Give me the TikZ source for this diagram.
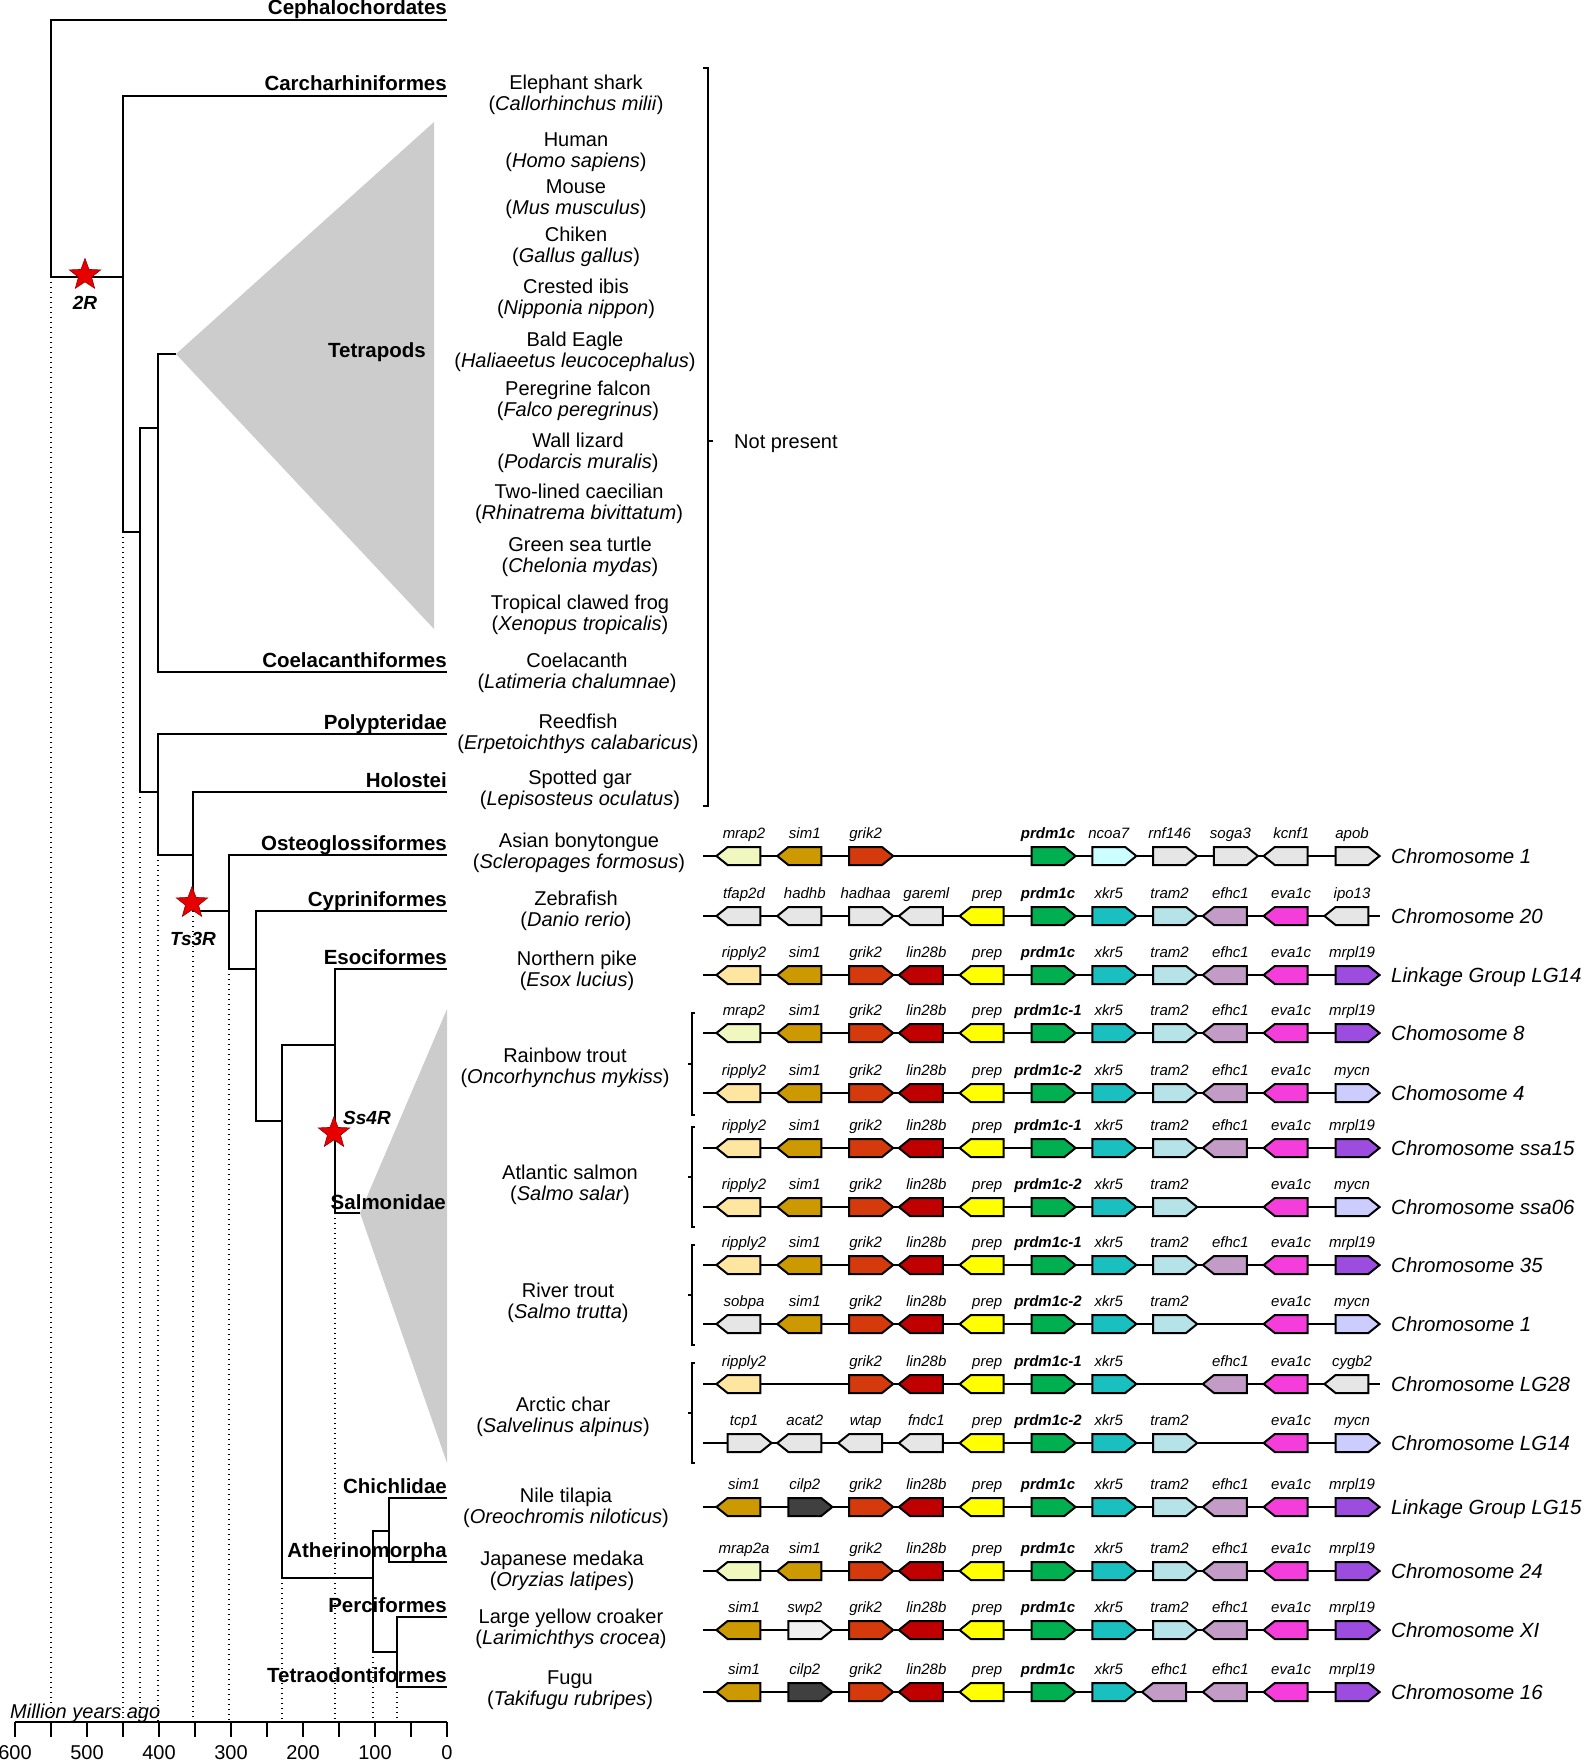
\documentclass[tikz,border=0pt]{standalone}
\usepackage{fontspec}
\setmainfont{Liberation Sans}
\usetikzlibrary{shapes.geometric,shapes.symbols}

\definecolor{cladegray}{HTML}{CCCCCC}
\definecolor{starred}{HTML}{E60000}
\definecolor{gmrap}{HTML}{F0F8C0}
\definecolor{gripp}{HTML}{FFE6A0}
\definecolor{gsim}{HTML}{CC9900}
\definecolor{ggrik}{HTML}{D43A0C}
\definecolor{glin}{HTML}{C00000}
\definecolor{gprep}{HTML}{FFFF00}
\definecolor{gprdm}{HTML}{00B050}
\definecolor{gxkr}{HTML}{1ABFC0}
\definecolor{gtram}{HTML}{B5E3E8}
\definecolor{gefhc}{HTML}{C39BC7}
\definecolor{geva}{HTML}{F53DDB}
\definecolor{gmrpl}{HTML}{9D4CE0}
\definecolor{gmycn}{HTML}{CCCCFF}
\definecolor{gncoa}{HTML}{CCFFFF}
\definecolor{ggray}{HTML}{E6E6E6}
\definecolor{glgray}{HTML}{F0F0F0}
\definecolor{gcilp}{HTML}{404040}

\tikzset{
  branch/.style={line width=1.5pt},
  guide/.style={line width=1.2pt, dash pattern=on 1.4pt off 3.6pt},
  clade/.style={fill=cladegray, draw=none},
  taxon/.style={anchor=base east, inner sep=0pt, font=\fontsize{20.5}{21}\selectfont\bfseries},
  species/.style={align=center, inner sep=0pt, font=\fontsize{20}{20.5}\selectfont},
  dupstar/.style={star, star points=5, star point ratio=2.4, fill=starred, draw=red!60!black, line width=0.6pt, minimum size=33pt, inner sep=0pt},
  dupname/.style={anchor=base, inner sep=0pt, font=\fontsize{19}{20}\selectfont\bfseries\itshape},
  gene/.style={signal, signal pointer angle=78, draw=black, line width=2pt, minimum width=44pt, minimum height=18pt, inner sep=0pt},
  gl/.style={signal to=west},
  gr/.style={signal to=east},
  glab/.style={anchor=base, inner sep=0pt, font=\fontsize{15}{16}\selectfont\itshape},
  chrom/.style={anchor=base west, inner sep=0pt, font=\fontsize{20.5}{22}\selectfont\itshape},
  track/.style={line width=1.5pt},
  brace/.style={line width=1.2pt},
  axlab/.style={anchor=north, inner sep=0pt, font=\fontsize{20}{20}\selectfont}
}

\newcommand\generow[4]{%
  \coordinate (#1s) at (703,#2);
  \coordinate (#1e) at (1380,#2);
  \draw[track] (#1s) -- (#1e);
  \node[chrom] (#1c) at (1391,#2+7.5) {#3};
  \foreach \gp/\gd/\gc/\gt in {#4} {
    \node[gene,\gd,fill=\gc] (#1g\gp) at ({744+60.8*\gp},#2) {};
    \node[glab] (#1l\gp) at ({744+60.8*\gp},#2-18) {\gt};
  }
}

\begin{document}
\begin{tikzpicture}[x=1pt,y=-1pt]
\useasboundingbox (0,0) rectangle (1585,1760);

\coordinate (root) at (51,277);
\coordinate (n1) at (123,277);
\coordinate (n2) at (140,532);
\coordinate (sarc) at (158,428);
\coordinate (actino) at (158,792);
\coordinate (neop) at (193,855);
\coordinate (tele) at (229,911);
\coordinate (clupeo) at (256,969);
\coordinate (eutel) at (282,1121);
\coordinate (esal) at (335,1045);
\coordinate (acanth) at (373,1578);
\coordinate (cm) at (389,1531);
\coordinate (pt) at (397,1652);

\coordinate (ceph) at (447,20);
\coordinate (carch) at (447,96);
\coordinate (tetra) at (176,354);
\coordinate (tetraT) at (434,122);
\coordinate (tetraB) at (434,629);
\coordinate (coel) at (447,672);
\coordinate (poly) at (447,734);
\coordinate (holo) at (447,792);
\coordinate (osteo) at (447,855);
\coordinate (cypr) at (447,911);
\coordinate (esoc) at (447,969);
\coordinate (salm) at (360,1213);
\coordinate (salmT) at (447,1009);
\coordinate (salmB) at (447,1463);
\coordinate (chich) at (447,1498);
\coordinate (ather) at (447,1562);
\coordinate (perci) at (447,1617);
\coordinate (tetrao) at (447,1687);

\coordinate (axisL) at (15,1722);
\coordinate (axisR) at (447,1722);

\fill[clade] (tetra) -- (tetraT) -- (tetraB) -- cycle;
\fill[clade] (salm) -- (salmT) -- (salmB) -- cycle;

\draw[guide] (root) -- (root |- axisL);
\draw[guide] (n1 |- n2) -- (n1 |- axisL);
\draw[guide] (n2 |- actino) -- (n2 |- axisL);
\draw[guide] (actino |- neop) -- (actino |- axisL);
\draw[guide] (neop |- tele) -- (neop |- axisL);
\draw[guide] (tele |- clupeo) -- (tele |- axisL);
\draw[guide] (eutel |- acanth) -- (eutel |- axisL);
\draw[guide] (esal |- salm) -- (esal |- axisL);
\draw[guide] (acanth |- pt) -- (acanth |- axisL);
\draw[guide] (pt |- tetrao) -- (pt |- axisL);

\draw[branch] (ceph) -| (root) -- (n1);
\draw[branch] (carch) -| (n1) |- (n2);
\draw[branch] (sarc) -| (n2) |- (actino);
\draw[branch] (tetra) -| (sarc) |- (coel);
\draw[branch] (poly) -| (actino) |- (neop);
\draw[branch] (holo) -| (neop) |- (tele);
\draw[branch] (osteo) -| (tele) |- (clupeo);
\draw[branch] (cypr) -| (clupeo) |- (eutel);
\draw[branch] (esal) -| (eutel) |- (acanth);
\draw[branch] (esoc) -| (esal) |- (salm);
\draw[branch] (cm) -| (acanth) |- (pt);
\draw[branch] (chich) -| (cm) |- (ather);
\draw[branch] (perci) -| (pt) |- (tetrao);

\node[taxon] (cephl) at ([yshift=5pt]ceph) {Cephalochordates};
\node[taxon] (carchl) at ([yshift=5pt]carch) {Carcharhiniformes};
\node[taxon] (tetral) at (426,357) {Tetrapods};
\node[taxon] (coell) at ([yshift=5pt]coel) {Coelacanthiformes};
\node[taxon] (polyl) at ([yshift=5pt]poly) {Polypteridae};
\node[taxon] (holol) at ([yshift=5pt]holo) {Holostei};
\node[taxon] (osteol) at ([yshift=5pt]osteo) {Osteoglossiformes};
\node[taxon] (cyprl) at ([yshift=5pt]cypr) {Cypriniformes};
\node[taxon] (esocl) at ([yshift=5pt]esoc) {Esociformes};
\node[taxon] (salml) at (446,1209) {Salmonidae};
\node[taxon] (chichl) at ([yshift=5pt]chich) {Chichlidae};
\node[taxon] (atherl) at ([yshift=5pt]ather) {Atherinomorpha};
\node[taxon] (percil) at ([yshift=5pt]perci) {Perciformes};
\node[taxon] (tetraol) at ([yshift=5pt]tetrao) {Tetraodontiformes};

\node[dupstar] (s2R) at (85,275) {};
\node[dupname] (l2R) at (85,310) {2R};
\node[dupstar] (s3R) at (192,903) {};
\node[dupname] (l3R) at (193,945) {Ts3R};
\node[dupstar] (s4R) at (334,1133) {};
\node[dupname, anchor=base west] (l4R) at (343,1124) {Ss4R};

\draw[branch] (axisL) -- (axisR);
\foreach \my in {0,50,...,600}
  \draw[branch] ({447-0.72*\my},1722) -- ++(0,15);
\foreach \my in {0,100,...,600}
  \node[axlab] at ({447-0.72*\my},1745) {\my};
\node[anchor=base west, inner sep=0pt, font=\fontsize{20}{20}\selectfont\itshape] (mya) at (10,1718) {Million years ago};

\node[species] (shark) at (576,95) {Elephant shark\\(\textit{Callorhinchus milii})};
\node[species] (human) at (576,152) {Human\\(\textit{Homo sapiens})};
\node[species] (mouse) at (576,199) {Mouse\\(\textit{Mus musculus})};
\node[species] (chick) at (576,247) {Chiken\\(\textit{Gallus gallus})};
\node[species] (ibis) at (576,299) {Crested ibis\\(\textit{Nipponia nippon})};
\node[species] (eagle) at (575,352) {Bald Eagle\\(\textit{Haliaeetus leucocephalus})};
\node[species] (falcon) at (578,401) {Peregrine falcon\\(\textit{Falco peregrinus})};
\node[species] (lizard) at (578,453) {Wall lizard\\(\textit{Podarcis muralis})};
\node[species] (caecil) at (579,504) {Two-lined caecilian\\(\textit{Rhinatrema bivittatum})};
\node[species] (turtle) at (580,557) {Green sea turtle\\(\textit{Chelonia mydas})};
\node[species] (frog) at (580,615) {Tropical clawed frog\\(\textit{Xenopus tropicalis})};
\node[species] (coelsp) at (577,673) {Coelacanth\\(\textit{Latimeria chalumnae})};
\node[species] (reed) at (578,734) {Reedfish\\(\textit{Erpetoichthys calabaricus})};
\node[species] (gar) at (580,790) {Spotted gar\\(\textit{Lepisosteus oculatus})};
\node[species] (bony) at (579,853) {Asian bonytongue\\(\textit{Scleropages formosus})};
\node[species] (zebra) at (576,911) {Zebrafish\\(\textit{Danio rerio})};
\node[species] (pike) at (577,971) {Northern pike\\(\textit{Esox lucius})};
\node[species] (rtrout) at (565,1068) {Rainbow trout\\(\textit{Oncorhynchus mykiss})};
\node[species] (salmon) at (570,1185) {Atlantic salmon\\(\textit{Salmo salar})};
\node[species] (btrout) at (568,1303) {River trout\\(\textit{Salmo trutta})};
\node[species] (char) at (563,1417) {Arctic char\\(\textit{Salvelinus alpinus})};
\node[species] (tilap) at (566,1508) {Nile tilapia\\(\textit{Oreochromis niloticus})};
\node[species] (medaka) at (562,1571) {Japanese medaka\\(\textit{Oryzias latipes})};
\node[species] (croak) at (571,1629) {Large yellow croaker\\(\textit{Larimichthys crocea})};
\node[species] (fugu) at (570,1690) {Fugu\\(\textit{Takifugu rubripes})};

\coordinate (npT) at (708,68);
\coordinate (npB) at (708,806);
\coordinate (npM) at (708,441);
\draw[brace] ([xshift=-5pt]npT) -- (npT) -- (npB) -- ([xshift=-5pt]npB);
\draw[brace] (npM) -- ++(5,0);
\node[species, anchor=west] (np) at (734,444) {Not present};

\foreach \bt/\bb in {1013/1115,1127/1227,1245/1345,1363/1463} {
  \draw[brace] (695,\bt) -- (692,\bt) -- (692,\bb) -- (695,\bb);
  \draw[brace] (692,{(\bt+\bb)/2}) -- ++(-4,0);
}

\generow{A}{856}{Chromosome 1}{0/gl/gmrap/mrap2, 1/gl/gsim/sim1, 2/gr/ggrik/grik2, 5/gr/gprdm/\textbf{prdm1c}, 6/gr/gncoa/ncoa7, 7/gr/ggray/rnf146, 8/gr/ggray/soga3, 9/gl/ggray/kcnf1, 10/gr/ggray/apob}
\generow{B}{916}{Chromosome 20}{0/gl/ggray/tfap2d, 1/gl/ggray/hadhb, 2/gr/ggray/hadhaa, 3/gl/ggray/gareml, 4/gl/gprep/prep, 5/gr/gprdm/\textbf{prdm1c}, 6/gr/gxkr/xkr5, 7/gr/gtram/tram2, 8/gl/gefhc/efhc1, 9/gl/geva/eva1c, 10/gl/ggray/ipo13}
\generow{C}{975}{Linkage Group LG14}{0/gl/gripp/ripply2, 1/gl/gsim/sim1, 2/gr/ggrik/grik2, 3/gl/glin/lin28b, 4/gl/gprep/prep, 5/gr/gprdm/\textbf{prdm1c}, 6/gr/gxkr/xkr5, 7/gr/gtram/tram2, 8/gl/gefhc/efhc1, 9/gl/geva/eva1c, 10/gr/gmrpl/mrpl19}
\generow{D}{1033}{Chomosome 8}{0/gl/gmrap/mrap2, 1/gl/gsim/sim1, 2/gr/ggrik/grik2, 3/gl/glin/lin28b, 4/gl/gprep/prep, 5/gr/gprdm/\textbf{prdm1c-1}, 6/gr/gxkr/xkr5, 7/gr/gtram/tram2, 8/gl/gefhc/efhc1, 9/gl/geva/eva1c, 10/gr/gmrpl/mrpl19}
\generow{E}{1093}{Chomosome 4}{0/gl/gripp/ripply2, 1/gl/gsim/sim1, 2/gr/ggrik/grik2, 3/gl/glin/lin28b, 4/gl/gprep/prep, 5/gr/gprdm/\textbf{prdm1c-2}, 6/gr/gxkr/xkr5, 7/gr/gtram/tram2, 8/gl/gefhc/efhc1, 9/gl/geva/eva1c, 10/gr/gmycn/mycn}
\generow{F}{1148}{Chromosome ssa15}{0/gl/gripp/ripply2, 1/gl/gsim/sim1, 2/gr/ggrik/grik2, 3/gl/glin/lin28b, 4/gl/gprep/prep, 5/gr/gprdm/\textbf{prdm1c-1}, 6/gr/gxkr/xkr5, 7/gr/gtram/tram2, 8/gl/gefhc/efhc1, 9/gl/geva/eva1c, 10/gr/gmrpl/mrpl19}
\generow{G}{1207}{Chromosome ssa06}{0/gl/gripp/ripply2, 1/gl/gsim/sim1, 2/gr/ggrik/grik2, 3/gl/glin/lin28b, 4/gl/gprep/prep, 5/gr/gprdm/\textbf{prdm1c-2}, 6/gr/gxkr/xkr5, 7/gr/gtram/tram2, 9/gl/geva/eva1c, 10/gr/gmycn/mycn}
\generow{H}{1265}{Chromosome 35}{0/gl/gripp/ripply2, 1/gl/gsim/sim1, 2/gr/ggrik/grik2, 3/gl/glin/lin28b, 4/gl/gprep/prep, 5/gr/gprdm/\textbf{prdm1c-1}, 6/gr/gxkr/xkr5, 7/gr/gtram/tram2, 8/gl/gefhc/efhc1, 9/gl/geva/eva1c, 10/gr/gmrpl/mrpl19}
\generow{I}{1324}{Chromosome 1}{0/gl/ggray/sobpa, 1/gl/gsim/sim1, 2/gr/ggrik/grik2, 3/gl/glin/lin28b, 4/gl/gprep/prep, 5/gr/gprdm/\textbf{prdm1c-2}, 6/gr/gxkr/xkr5, 7/gr/gtram/tram2, 9/gl/geva/eva1c, 10/gr/gmycn/mycn}
\generow{J}{1384}{Chromosome LG28}{0/gl/gripp/ripply2, 2/gr/ggrik/grik2, 3/gl/glin/lin28b, 4/gl/gprep/prep, 5/gr/gprdm/\textbf{prdm1c-1}, 6/gr/gxkr/xkr5, 8/gl/gefhc/efhc1, 9/gl/geva/eva1c, 10/gl/ggray/cygb2}
\generow{K}{1443}{Chromosome LG14}{0/gr/ggray/tcp1, 1/gl/ggray/acat2, 2/gl/ggray/wtap, 3/gl/ggray/fndc1, 4/gl/gprep/prep, 5/gr/gprdm/\textbf{prdm1c-2}, 6/gr/gxkr/xkr5, 7/gr/gtram/tram2, 9/gl/geva/eva1c, 10/gr/gmycn/mycn}
\generow{L}{1507}{Linkage Group LG15}{0/gl/gsim/sim1, 1/gr/gcilp/cilp2, 2/gr/ggrik/grik2, 3/gl/glin/lin28b, 4/gl/gprep/prep, 5/gr/gprdm/\textbf{prdm1c}, 6/gr/gxkr/xkr5, 7/gr/gtram/tram2, 8/gl/gefhc/efhc1, 9/gl/geva/eva1c, 10/gr/gmrpl/mrpl19}
\generow{M}{1571}{Chromosome 24}{0/gl/gmrap/mrap2a, 1/gl/gsim/sim1, 2/gr/ggrik/grik2, 3/gl/glin/lin28b, 4/gl/gprep/prep, 5/gr/gprdm/\textbf{prdm1c}, 6/gr/gxkr/xkr5, 7/gr/gtram/tram2, 8/gl/gefhc/efhc1, 9/gl/geva/eva1c, 10/gr/gmrpl/mrpl19}
\generow{N}{1630}{Chromosome XI}{0/gl/gsim/sim1, 1/gr/glgray/swp2, 2/gr/ggrik/grik2, 3/gl/glin/lin28b, 4/gl/gprep/prep, 5/gr/gprdm/\textbf{prdm1c}, 6/gr/gxkr/xkr5, 7/gr/gtram/tram2, 8/gl/gefhc/efhc1, 9/gl/geva/eva1c, 10/gr/gmrpl/mrpl19}
\generow{O}{1692}{Chromosome 16}{0/gl/gsim/sim1, 1/gr/gcilp/cilp2, 2/gr/ggrik/grik2, 3/gl/glin/lin28b, 4/gl/gprep/prep, 5/gr/gprdm/\textbf{prdm1c}, 6/gr/gxkr/xkr5, 7/gl/gefhc/efhc1, 8/gl/gefhc/efhc1, 9/gl/geva/eva1c, 10/gr/gmrpl/mrpl19}
\end{tikzpicture}
\end{document}
